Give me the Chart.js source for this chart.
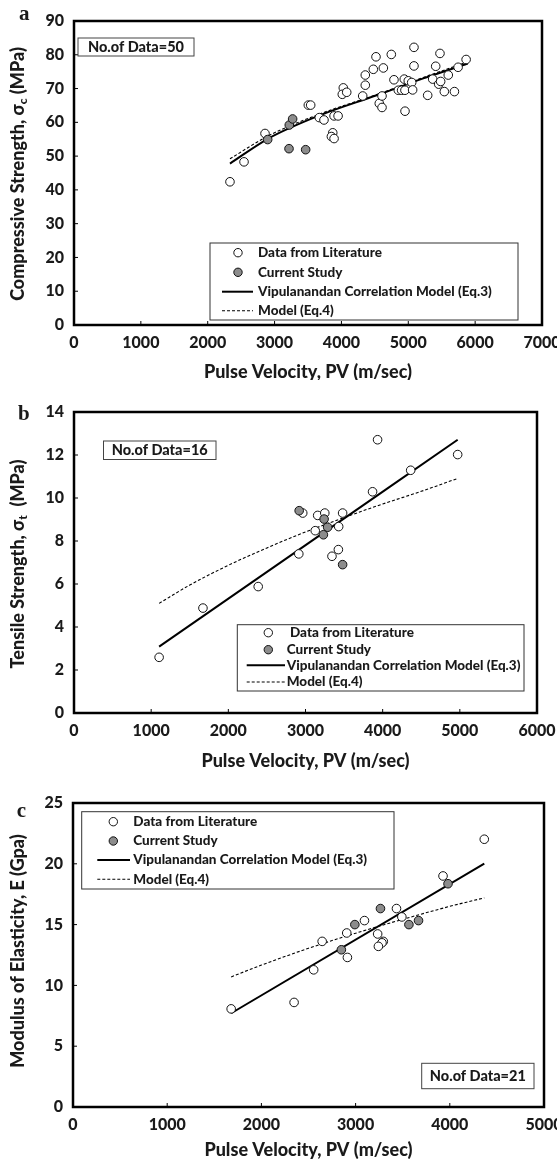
<!DOCTYPE html>
<html>
<head>
<meta charset="utf-8">
<script src="https://cdn.jsdelivr.net/npm/chart.js@4.4.1/dist/chart.umd.min.js"></script>
<style>
  body { margin: 0; background: #fff; width: 557px; height: 1164px; overflow: hidden; position: relative; }
  .panel { position: absolute; left: 0; }
</style>
</head>
<body>
<canvas id="chartA" class="panel" width="557" height="380" style="top:0"></canvas>
<canvas id="chartB" class="panel" width="557" height="400" style="top:380px"></canvas>
<canvas id="chartC" class="panel" width="557" height="384" style="top:780px"></canvas>

<script>
// =============== DATA ===============
// (a) compressive strength
const pvLitA = [2333, 2543, 2857, 3505, 3540, 3669, 3739, 3890, 3950, 3870, 3850, 3890,
  4028, 4013, 4079, 4318, 4357, 4357, 4477, 4517, 4627, 4746, 4566, 4607, 4607, 4786,
  4851, 4900, 4950, 4940, 5000, 5051, 4951, 5065, 5085, 5085, 5290, 5365, 5410, 5474,
  5455, 5484, 5539, 5598, 5690, 5745, 5865];
const ucsLitA = [42.4, 48.3, 56.7, 65.1, 65.1, 61.4, 60.7, 61.9, 61.9, 56.9, 55.8, 55.2,
  70.2, 68.3, 68.9, 67.8, 71.0, 74.0, 75.7, 79.4, 76.1, 80.1, 65.6, 64.4, 67.8, 72.6,
  69.5, 69.5, 69.5, 72.8, 72.3, 71.8, 63.3, 69.6, 76.7, 82.2, 68.0, 72.8, 76.6, 80.4,
  71.3, 72.1, 69.1, 74.0, 69.1, 76.3, 78.6];
const pvCurA = [2897, 3220, 3270, 3216, 3465];
const ucsCurA = [54.9, 59.2, 61.0, 52.2, 51.9];
const pvEq3A = [2333, 2906, 3679, 4527, 5225, 5890];
const ucsEq3A = [47.8, 55.2, 62.1, 68.0, 73.0, 77.4];
const pvEq4A = [2333, 2906, 3679, 4527, 5225, 5890];
const ucsEq4A = [49.2, 56.0, 62.5, 68.2, 73.3, 77.9];

// (b) tensile strength
const pvLitB = [3934, 4972, 4363, 3869, 2964, 3158, 3250, 3481, 3430, 3126, 2913, 3426, 3343, 2387, 1671, 1103];
const tsLitB = [12.71, 12.02, 11.29, 10.29, 9.30, 9.19, 9.30, 9.30, 8.67, 8.48, 7.40, 7.60, 7.29, 5.88, 4.88, 2.59];
const pvCurB = [2918, 3241, 3287, 3232, 3481];
const tsCurB = [9.41, 9.02, 8.64, 8.29, 6.90];
const pvEq3B = [1103, 4972];
const tsEq3B = [3.09, 12.71];
const pvEq4B = [1103, 1500, 2000, 2500, 3000, 3500, 4000, 4500, 4972];
const tsEq4B = [5.10, 5.95, 6.87, 7.68, 8.42, 9.09, 9.72, 10.31, 10.91];

// (c) modulus of elasticity
const pvLitC = [4366, 3928, 3434, 3491, 3094, 2906, 2645, 3234, 3294, 3280, 3242, 2913, 2555, 1679, 2347];
const eLitC = [22.02, 19.0, 16.32, 15.63, 15.33, 14.31, 13.62, 14.23, 13.62, 13.5, 13.21, 12.30, 11.28, 8.07, 8.6];
const pvCurC = [3981, 3264, 2992, 3566, 3668, 2849];
const eCurC = [18.36, 16.32, 15.0, 15.0, 15.33, 12.93];
const pvEq3C = [1679, 4366];
const eEq3C = [7.71, 20.01];
const pvEq4C = [1679, 2000, 2500, 3000, 3500, 4000, 4366];
const eEq4C = [10.7, 11.67, 13.05, 14.29, 15.43, 16.5, 17.2];

const legendLabels = ["Data from Literature", "Current Study", "Vipulanandan Correlation Model (Eq.3)", "Model (Eq.4)"];

// =============== STYLE ===============
const FONT = "Lato, 'Open Sans', sans-serif";
const W = "900";
const INK = "#1a1a1a";
const GREY = "#8c8c8c";

const pts = (xs, ys) => xs.map((x, i) => ({ x, y: ys[i] }));

function datasets(litX, litY, curX, curY, e3X, e3Y, e4X, e4Y) {
  return [
    { label: legendLabels[1], data: pts(curX, curY), pointRadius: 4.3, pointBackgroundColor: GREY, pointBorderColor: "#111", pointBorderWidth: 1 },
    { label: legendLabels[0], data: pts(litX, litY), pointRadius: 4.3, pointBackgroundColor: "#fff", pointBorderColor: "#111", pointBorderWidth: 1 },
    { label: legendLabels[2], data: pts(e3X, e3Y), showLine: true, pointRadius: 0, borderColor: "#000", borderWidth: 2, cubicInterpolationMode: "monotone" },
    { label: legendLabels[3], data: pts(e4X, e4Y), showLine: true, pointRadius: 0, borderColor: "#000", borderWidth: 1.1, borderDash: [3, 2], cubicInterpolationMode: "monotone" },
  ];
}

// =============== DECORATION PLUGIN ===============
function drawMarker(ctx, kind, x, y, x1, x2) {
  ctx.save();
  if (kind === "open" || kind === "filled") {
    ctx.beginPath();
    ctx.arc(x, y, 4.2, 0, Math.PI * 2);
    ctx.fillStyle = kind === "open" ? "#fff" : GREY;
    ctx.fill();
    ctx.lineWidth = 1; ctx.strokeStyle = "#111"; ctx.stroke();
  } else {
    ctx.beginPath();
    ctx.strokeStyle = "#000";
    ctx.lineWidth = kind === "solid" ? 2 : 1.1;
    if (kind === "dashed") ctx.setLineDash([3, 2]);
    ctx.moveTo(x1, y); ctx.lineTo(x2, y); ctx.stroke();
  }
  ctx.restore();
}

const decor = {
  id: "decor",
  afterDraw(chart, args, o) {
    const { ctx, chartArea: a, scales } = chart;
    const dy = o.offsetTop;
    ctx.save();

    // frame
    ctx.strokeStyle = "#000"; ctx.lineWidth = 2.5;
    ctx.strokeRect(a.left, a.top, a.right - a.left, a.bottom - a.top);

    // inward ticks
    ctx.lineWidth = 1;
    scales.x.ticks.forEach(t => {
      const px = scales.x.getPixelForValue(t.value);
      if (px > a.left + 3 && px < a.right - 3) {
        ctx.beginPath(); ctx.moveTo(px, a.bottom); ctx.lineTo(px, a.bottom - 4); ctx.stroke();
      }
    });
    scales.y.ticks.forEach(t => {
      const py = scales.y.getPixelForValue(t.value);
      if (py > a.top + 3 && py < a.bottom - 3) {
        ctx.beginPath(); ctx.moveTo(a.left, py); ctx.lineTo(a.left + 4, py); ctx.stroke();
      }
    });

    ctx.fillStyle = INK;
    ctx.textBaseline = "middle";

    // x title
    ctx.font = `${W} 18px ${FONT}`;
    ctx.textAlign = "center";
    ctx.fillText("Pulse Velocity, PV (m/sec)", (a.left + a.right) / 2, o.xTitleY - dy);

    // y title with subscript
    ctx.save();
    ctx.translate(o.yTitle.x, o.yTitle.y - dy);
    ctx.rotate(-Math.PI / 2);
    ctx.textAlign = "left";
    let total = 0;
    o.yTitle.parts.forEach(p => {
      ctx.font = p.sub ? `${W} 12px ${FONT}` : `${W} 18px ${FONT}`;
      p.w = ctx.measureText(p.t).width; total += p.w;
    });
    let x = -total / 2;
    o.yTitle.parts.forEach(p => {
      ctx.font = p.sub ? `${W} 12px ${FONT}` : `${W} 18px ${FONT}`;
      ctx.fillText(p.t, x, p.sub ? 5 : 0);
      x += p.w;
    });
    ctx.restore();

    // panel letter
    ctx.textBaseline = "alphabetic"; ctx.textAlign = "left";
    ctx.font = "bold 21px 'Liberation Serif', serif";
    ctx.fillText(o.letter.t, o.letter.x, o.letter.y - dy);

    // note box
    const n = o.note;
    ctx.strokeStyle = "#444"; ctx.lineWidth = 1;
    ctx.strokeRect(n.box[0], n.box[1] - dy, n.box[2] - n.box[0], n.box[3] - n.box[1]);
    ctx.font = `${W} 14.5px ${FONT}`; ctx.textAlign = "center"; ctx.textBaseline = "middle";
    ctx.fillText(n.t, (n.box[0] + n.box[2]) / 2, (n.box[1] + n.box[3]) / 2 - dy + 0.5);

    // legend
    const L = o.legend;
    ctx.fillStyle = "#fff";
    ctx.fillRect(L.box[0], L.box[1] - dy, L.box[2] - L.box[0], L.box[3] - L.box[1]);
    ctx.strokeStyle = "#333";
    ctx.strokeRect(L.box[0], L.box[1] - dy, L.box[2] - L.box[0], L.box[3] - L.box[1]);
    const kinds = ["open", "filled", "solid", "dashed"];
    ctx.font = `${W} 13.5px ${FONT}`; ctx.textAlign = "left"; ctx.fillStyle = INK;
    kinds.forEach((k, i) => {
      const y = L.rows[i] - dy;
      drawMarker(ctx, k, L.markerX[i], y, L.line[0], L.line[1]);
      ctx.fillText(legendLabels[i], L.textX[i], y);
    });

    ctx.restore();
  }
};

function makeChart(id, cfg) {
  const tickFont = { family: FONT, size: 16, weight: W };
  return new Chart(document.getElementById(id), {
    type: "scatter",
    data: { datasets: cfg.datasets },
    options: {
      responsive: false,
      animation: false,
      layout: { padding: { top: cfg.plot.top - cfg.offsetTop, right: 557 - cfg.plot.right, left: 0, bottom: 0 } },
      plugins: { legend: { display: false }, tooltip: { enabled: false }, decor: cfg.decor },
      scales: {
        x: {
          type: "linear", min: 0, max: cfg.xMax,
          ticks: { stepSize: 1000, padding: 8, color: INK, font: tickFont, maxRotation: 0, autoSkip: false, callback: v => String(v) },
          grid: { display: false, drawTicks: false }, border: { display: false },
          afterFit(s) { s.height = cfg.canvasH - (cfg.plot.bottom - cfg.offsetTop); s.paddingLeft = 0; s.paddingRight = 0; }
        },
        y: {
          min: 0, max: cfg.yMax,
          ticks: { stepSize: cfg.yStep, padding: 10, color: INK, font: tickFont, callback: v => String(v) },
          grid: { display: false, drawTicks: false }, border: { display: false },
          afterFit(s) { s.width = cfg.plot.left; s.paddingTop = 0; s.paddingBottom = 0; }
        }
      }
    },
    plugins: [decor]
  });
}

makeChart("chartA", {
  offsetTop: 0, canvasH: 380, xMax: 7000, yMax: 90, yStep: 10,
  plot: { left: 74, right: 542, top: 21, bottom: 325 },
  datasets: datasets(pvLitA, ucsLitA, pvCurA, ucsCurA, pvEq3A, ucsEq3A, pvEq4A, ucsEq4A),
  decor: {
    offsetTop: 0, xTitleY: 372,
    yTitle: { x: 18, y: 174, parts: [{ t: "Compressive Strength, σ" }, { t: "c", sub: true }, { t: " (MPa)" }] },
    letter: { t: "a", x: 19, y: 20 },
    note: { t: "No.of Data=50", box: [78, 38, 194, 56] },
    legend: { box: [210, 243, 518, 320], rows: [252.7, 272.3, 291.7, 310.7], markerX: [238, 238], textX: [258, 258, 258, 258], line: [222, 253] }
  }
});

makeChart("chartB", {
  offsetTop: 380, canvasH: 400, xMax: 6000, yMax: 14, yStep: 2,
  plot: { left: 74, right: 537, top: 412, bottom: 713 },
  datasets: datasets(pvLitB, tsLitB, pvCurB, tsCurB, pvEq3B, tsEq3B, pvEq4B, tsEq4B),
  decor: {
    offsetTop: 380, xTitleY: 761,
    yTitle: { x: 18, y: 564, parts: [{ t: "Tensile Strength, σ" }, { t: "t", sub: true }, { t: "  (MPa)" }] },
    letter: { t: "b", x: 18, y: 420 },
    note: { t: "No.of Data=16", box: [103.5, 441, 216, 459.5] },
    legend: { box: [237.3, 624.7, 524, 691], rows: [632.7, 649.7, 665.3, 682], markerX: [268.3, 268.3], textX: [290, 286.7, 286.7, 286.7], line: [246.7, 285] }
  }
});

makeChart("chartC", {
  offsetTop: 780, canvasH: 384, xMax: 5000, yMax: 25, yStep: 5,
  plot: { left: 73, right: 544, top: 803, bottom: 1107 },
  datasets: datasets(pvLitC, eLitC, pvCurC, eCurC, pvEq3C, eEq3C, pvEq4C, eEq4C),
  decor: {
    offsetTop: 780, xTitleY: 1150,
    yTitle: { x: 18, y: 951, parts: [{ t: "Modulus of Elasticity, E (Gpa)" }] },
    letter: { t: "c", x: 16.7, y: 817 },
    note: { t: "No.of Data=21", box: [421.7, 1063.3, 534, 1088.7] },
    legend: { box: [81.7, 811.7, 394, 889], rows: [821.7, 841, 860, 879.3], markerX: [113.3, 113.3], textX: [133.3, 133.3, 133.3, 133.3], line: [97.3, 130] }
  }
});
</script>
</body>
</html>
